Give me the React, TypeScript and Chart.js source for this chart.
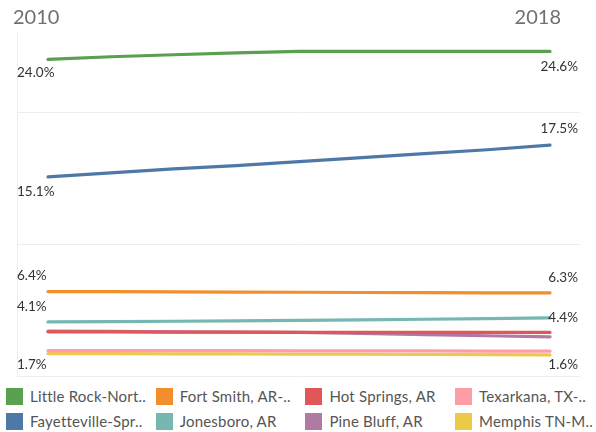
import React, { useEffect, useRef } from "react";
import { Chart, registerables } from "chart.js";

Chart.register(...registerables);

const years = [2010, 2011, 2012, 2013, 2014, 2015, 2016, 2017, 2018];

const seriesNames = [
  "Little Rock-Nort..",
  "Fayetteville-Spr..",
  "Fort Smith, AR-..",
  "Jonesboro, AR",
  "Hot Springs, AR",
  "Pine Bluff, AR",
  "Texarkana, TX-..",
  "Memphis TN-M..",
];

const seriesColors = ["#59a14f", "#4e79a7", "#f28e2b", "#76b7b2", "#e15759", "#b07aa1", "#ff9da7", "#edc948"];

const littleRock = [24.0, 24.2, 24.35, 24.5, 24.6, 24.6, 24.6, 24.6, 24.6];
const fayetteville = [15.1, 15.4, 15.7, 15.95, 16.25, 16.55, 16.85, 17.15, 17.5];
const fortSmith = [6.4, 6.4, 6.38, 6.36, 6.35, 6.33, 6.32, 6.3, 6.3];
const jonesboro = [4.1, 4.12, 4.15, 4.18, 4.22, 4.26, 4.3, 4.35, 4.4];
const hotSprings = [3.35, 3.35, 3.33, 3.32, 3.3, 3.3, 3.3, 3.3, 3.3];
const pineBluff = [3.4, 3.38, 3.35, 3.32, 3.3, 3.22, 3.14, 3.05, 2.97];
const texarkana = [1.93, 1.93, 1.92, 1.92, 1.91, 1.9, 1.9, 1.89, 1.88];
const memphis = [1.7, 1.7, 1.68, 1.67, 1.65, 1.65, 1.63, 1.62, 1.6];

const seriesValues = [littleRock, fayetteville, fortSmith, jonesboro, hotSprings, pineBluff, texarkana, memphis];

// which series get start/end value labels, and where (offset in px from the line)
const labelledSeries = [0, 1, 2, 3, 7];
const labelOffsets: Record<number, [number, number]> = {
  0: [13, 15],
  1: [15, -16],
  2: [-16, -15.5],
  3: [-15, 0],
  7: [11, 10],
};

const gridValues = [0, 10, 20];

const FONT = "Lato, 'Open Sans', sans-serif";

const gridPlugin = {
  id: "paneGrid",
  beforeDatasetsDraw(chart: any) {
    const { ctx, chartArea, scales } = chart;
    const y = scales.y;
    ctx.save();
    ctx.strokeStyle = "#ededed";
    ctx.lineWidth = 1;
    gridValues.forEach((v) => {
      const py = Math.round(y.getPixelForValue(v)) + 0.5;
      ctx.beginPath();
      ctx.moveTo(chartArea.left, py);
      ctx.lineTo(chartArea.right, py);
      ctx.stroke();
    });
    const px = Math.round(chartArea.left) + 0.5;
    ctx.beginPath();
    ctx.moveTo(px, chartArea.top);
    ctx.lineTo(px, chartArea.bottom);
    ctx.stroke();
    ctx.restore();
  },
};

const labelPlugin = {
  id: "endLabels",
  afterDatasetsDraw(chart: any) {
    const { ctx, chartArea, scales } = chart;
    const x = scales.x;
    const y = scales.y;
    ctx.save();
    // year headers
    ctx.font = `20px ${FONT}`;
    ctx.fillStyle = "#707070";
    ctx.textBaseline = "middle";
    ctx.textAlign = "left";
    ctx.fillText(String(years[0]), x.getPixelForValue(years[0]) - 35, 18);
    ctx.textAlign = "right";
    ctx.fillText(String(years[years.length - 1]), x.getPixelForValue(years[years.length - 1]) + 11, 18);

    // value labels
    ctx.font = `13.5px ${FONT}`;
    ctx.fillStyle = "#333333";
    labelledSeries.forEach((i) => {
      const vals = seriesValues[i];
      const [o1, o2] = labelOffsets[i];
      const v0 = vals[0];
      const v1 = vals[vals.length - 1];
      ctx.textAlign = "left";
      ctx.fillText(v0.toFixed(1) + "%", chartArea.left, y.getPixelForValue(v0) + o1);
      ctx.textAlign = "right";
      ctx.fillText(v1.toFixed(1) + "%", chartArea.right - 2, y.getPixelForValue(v1) + o2);
    });
    ctx.restore();
  },
};

export default function App() {
  const ref = useRef<HTMLCanvasElement | null>(null);

  useEffect(() => {
    if (!ref.current) return;
    const chart = new Chart(ref.current, {
      type: "line",
      data: {
        labels: years,
        datasets: seriesNames.map((name, i) => ({
          label: name,
          data: seriesValues[i].map((v, j) => ({ x: years[j], y: v })),
          borderColor: seriesColors[i],
          backgroundColor: seriesColors[i],
          borderWidth: 3.2,
          pointRadius: 0,
          tension: 0,
          borderCapStyle: "round" as const,
          borderJoinStyle: "round" as const,
        })),
      },
      options: {
        responsive: false,
        animation: false,
        layout: { padding: { left: 17, right: 16, top: 33, bottom: 6 } },
        plugins: { legend: { display: false }, tooltip: { enabled: false } },
        scales: {
          x: { type: "linear", min: 2009.506, max: 2018.478, display: false },
          y: { min: 0, max: 26, display: false },
        },
      },
      plugins: [gridPlugin, labelPlugin],
    });
    return () => chart.destroy();
  }, []);

  return (
    <div style={{ position: "fixed", left: 0, top: 0, width: 596, height: 432, background: "#fff", overflow: "hidden" }}>
      <canvas ref={ref} width={596} height={382} style={{ display: "block", width: 596, height: 382 }} />
      <div
        style={{
          position: "absolute",
          left: 6,
          top: 388,
          display: "grid",
          gridTemplateColumns: "repeat(4, 149.7px)",
          gridTemplateRows: "repeat(2, 25px)",
          gridAutoFlow: "column",
          fontFamily: FONT,
          fontSize: 15,
          letterSpacing: "0.2px",
          color: "#555",
        }}
      >
        {seriesNames.map((name, i) => (
          <div key={name} style={{ display: "flex", alignItems: "flex-start", whiteSpace: "nowrap" }}>
            <span style={{ width: 17, height: 17, background: seriesColors[i], display: "inline-block", marginRight: 7, flex: "none" }} />
            <span style={{ lineHeight: "17px" }}>{name}</span>
          </div>
        ))}
      </div>
    </div>
  );
}
